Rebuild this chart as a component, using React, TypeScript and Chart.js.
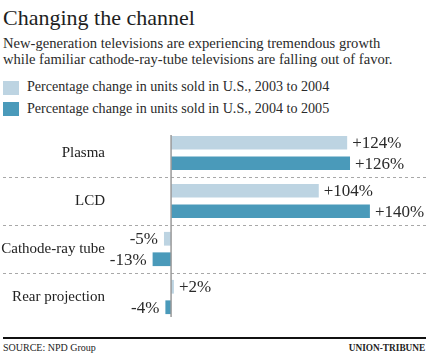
import React, { useEffect, useRef } from "react";
import { Chart, registerables } from "chart.js";

Chart.register(...registerables);

const categories = ["Plasma", "LCD", "Cathode-ray tube", "Rear projection"];
const change2003to2004 = [124, 104, -5, 2];
const change2004to2005 = [126, 140, -13, -4];
const seriesLabels = [
  "Percentage change in units sold in U.S., 2003 to 2004",
  "Percentage change in units sold in U.S., 2004 to 2005",
];
const seriesColors = ["#bdd4e2", "#4a9aba"];
const titleText = "Changing the channel";
const subtitleLines = [
  "New-generation televisions are experiencing tremendous growth",
  "while familiar cathode-ray-tube televisions are falling out of favor.",
];
const sourceText = "SOURCE: NPD Group";
const creditText = "UNION-TRIBUNE";

const SERIF = '"Liberation Serif", "Times New Roman", serif';

const fmt = (v: number) => (v > 0 ? "+" + v + "%" : v + "%");

const decorPlugin = {
  id: "decor",
  beforeDatasetsDraw(chart: any) {
    const { ctx, scales } = chart;
    const y = scales.y;
    ctx.save();
    ctx.strokeStyle = "#a8a8a8";
    ctx.lineWidth = 1;
    ctx.setLineDash([3, 3]);
    for (let i = 0; i < categories.length - 1; i++) {
      const yy = Math.round((y.getPixelForValue(i) + y.getPixelForValue(i + 1)) / 2) + 0.5;
      ctx.beginPath();
      ctx.moveTo(3, yy);
      ctx.lineTo(426, yy);
      ctx.stroke();
    }
    ctx.restore();
  },
  afterDatasetsDraw(chart: any) {
    const { ctx, chartArea, scales } = chart;
    const x0 = scales.x.getPixelForValue(0);
    ctx.save();
    ctx.strokeStyle = "#9a9a9a";
    ctx.lineWidth = 1.5;
    ctx.beginPath();
    ctx.moveTo(x0, chartArea.top + 6);
    ctx.lineTo(x0, chartArea.bottom - 4);
    ctx.stroke();

    ctx.fillStyle = "#2a2a2a";
    ctx.font = "17px " + SERIF;
    ctx.textBaseline = "alphabetic";
    chart.data.datasets.forEach((ds: any, di: number) => {
      const meta = chart.getDatasetMeta(di);
      meta.data.forEach((bar: any, i: number) => {
        const v = ds.data[i];
        const yText = bar.y + 5.6;
        if (v >= 0) {
          ctx.textAlign = "left";
          ctx.fillText(fmt(v), bar.x + 5, yText);
        } else {
          ctx.textAlign = "right";
          ctx.fillText(fmt(v), bar.x - 6, yText);
        }
      });
    });
    ctx.restore();
  },
};

function BarChart() {
  const ref = useRef<HTMLCanvasElement | null>(null);
  useEffect(() => {
    if (!ref.current) return;
    const chart = new Chart(ref.current, {
      type: "bar",
      data: {
        labels: categories,
        datasets: [
          {
            label: seriesLabels[0],
            data: change2003to2004,
            backgroundColor: seriesColors[0],
            categoryPercentage: 0.853,
            barPercentage: 0.67,
          },
          {
            label: seriesLabels[1],
            data: change2004to2005,
            backgroundColor: seriesColors[1],
            categoryPercentage: 0.853,
            barPercentage: 0.67,
          },
        ],
      },
      options: {
        indexAxis: "y",
        responsive: false,
        animation: false,
        layout: { padding: { top: 6, bottom: 4, left: 0, right: 5 } },
        plugins: {
          legend: { display: false },
          tooltip: { enabled: false },
          title: { display: false },
        },
        scales: {
          x: {
            type: "linear",
            min: -43,
            max: 178.8,
            display: false,
            grid: { display: false },
          },
          y: {
            type: "category",
            grid: { display: false, drawTicks: false },
            border: { display: false },
            ticks: {
              color: "#222",
              font: { family: SERIF, size: 15 },
              padding: 5,
            },
            afterFit(scale: any) {
              scale.width = 110;
            },
          },
        },
      },
      plugins: [decorPlugin],
    } as any);
    return () => chart.destroy();
  }, []);
  return (
    <canvas
      ref={ref}
      width={430}
      height={220}
      style={{ position: "absolute", left: 0, top: 115, width: 430, height: 220 }}
    />
  );
}

export default function App() {
  return (
    <div
      style={{
        position: "fixed",
        left: 0,
        top: 0,
        width: 430,
        height: 358,
        background: "#fff",
        fontFamily: SERIF,
        color: "#1e1e1e",
        overflow: "hidden",
      }}
    >
      <div
        style={{
          position: "absolute",
          left: 3,
          top: 6.6,
          fontSize: 22,
          lineHeight: "22px",
          whiteSpace: "nowrap",
        }}
      >
        {titleText}
      </div>
      <div
        style={{
          position: "absolute",
          left: 3,
          top: 34.8,
          fontSize: 14.6,
          lineHeight: "16px",
          whiteSpace: "nowrap",
          color: "#2a2a2a",
        }}
      >
        {subtitleLines.map((l, i) => (
          <div key={i}>{l}</div>
        ))}
      </div>
      {seriesLabels.map((l, i) => (
        <div key={i}>
          <div
            style={{
              position: "absolute",
              left: 3,
              top: i === 0 ? 81 : 102,
              width: 16,
              height: 14,
              background: seriesColors[i],
            }}
          />
          <div
            style={{
              position: "absolute",
              left: 27,
              top: i === 0 ? 77.9 : 99.9,
              fontSize: 14.1,
              lineHeight: "16px",
              whiteSpace: "nowrap",
              color: "#2a2a2a",
            }}
          >
            {l}
          </div>
        </div>
      ))}
      <BarChart />
      <div
        style={{
          position: "absolute",
          left: 3,
          top: 337,
          width: 423,
          height: 2,
          background: "#111",
        }}
      />
      <div
        style={{
          position: "absolute",
          left: 3,
          top: 342.3,
          fontSize: 10,
          lineHeight: "12px",
          whiteSpace: "nowrap",
          color: "#222",
        }}
      >
        {sourceText}
      </div>
      <div
        style={{
          position: "absolute",
          right: 5,
          top: 342.3,
          fontSize: 10,
          lineHeight: "12px",
          fontWeight: "bold",
          whiteSpace: "nowrap",
          color: "#222",
          transform: "scaleX(0.93)",
          transformOrigin: "right center",
        }}
      >
        {creditText}
      </div>
    </div>
  );
}
